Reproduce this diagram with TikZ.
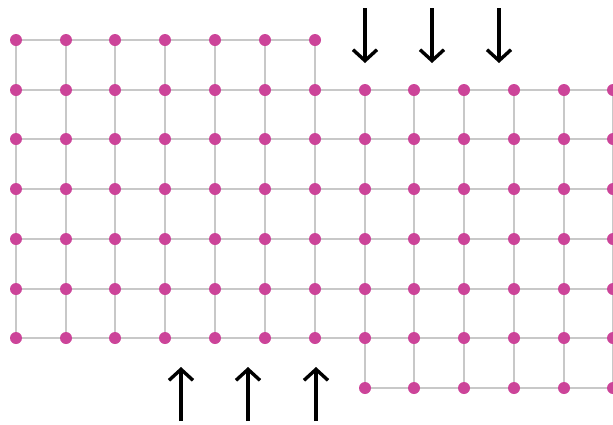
\documentclass[tikz,border=0pt]{standalone}
\usetikzlibrary{arrows.meta}
\definecolor{dotc}{RGB}{204,68,153}
\definecolor{linec}{RGB}{200,200,200}
\tikzset{
  dot/.style={circle,fill=dotc,inner sep=0pt,minimum size=12pt},
  gridline/.style={draw=linec,line width=1.3pt},
  bigarrow/.style={line width=3.4pt,-{Straight Barb[length=11pt,width=24pt,line width=3.4pt]}}
}
\begin{document}
\begin{tikzpicture}[x=1pt,y=-1pt]
\useasboundingbox (0,0) rectangle (613,424);
\clip (0,0) rectangle (613,424);
% left grid coordinates
\foreach \i/\x in {1/16,2/66,3/115,4/165,5/215,6/265,7/315}{
  \foreach \j/\y in {1/40,2/90,3/139,4/189,5/239,6/289,7/338}{
    \coordinate (L-\i-\j) at (\x,\y);
  }
}
% right grid coordinates
\foreach \i/\x in {1/365,2/414,3/464,4/514,5/564,6/613}{
  \foreach \j/\y in {1/90,2/139,3/189,4/239,5/289,6/338,7/388}{
    \coordinate (R-\i-\j) at (\x,\y);
  }
}
\foreach \j/\y in {1/90,2/139,3/189,4/239,5/289,6/338,7/388}{
  \coordinate (RE-\j) at (640,\y);
}
% lines
\foreach \j in {1,...,7}{
  \draw[gridline] (L-1-\j) -- (L-7-\j);
  \draw[gridline] (R-1-\j) -- (RE-\j);
}
\foreach \j [evaluate=\j as \k using int(\j+1)] in {1,...,6}{
  \draw[gridline] (L-7-\k) -- (R-1-\j);
}
\foreach \i in {1,...,7}{
  \draw[gridline] (L-\i-1) -- (L-\i-7);
}
\foreach \i in {1,...,6}{
  \draw[gridline] (R-\i-1) -- (R-\i-7);
}
% dots
\foreach \i in {1,...,7}{
  \foreach \j in {1,...,7}{
    \node[dot] (dL-\i-\j) at (L-\i-\j) {};
  }
}
\foreach \i in {1,...,6}{
  \foreach \j in {1,...,7}{
    \node[dot] (dR-\i-\j) at (R-\i-\j) {};
  }
}
% arrows
\coordinate (ta1) at (365,8);  \coordinate (tb1) at (365,63);
\coordinate (ta2) at (432,8);  \coordinate (tb2) at (432,63);
\coordinate (ta3) at (499,8);  \coordinate (tb3) at (499,63);
\coordinate (ba1) at (181,421); \coordinate (bb1) at (181,367);
\coordinate (ba2) at (248,421); \coordinate (bb2) at (248,367);
\coordinate (ba3) at (316,421); \coordinate (bb3) at (316,367);
\foreach \n in {1,2,3}{
  \draw[bigarrow] (ta\n) -- (tb\n);
  \draw[bigarrow] (ba\n) -- (bb\n);
}
\end{tikzpicture}
\end{document}
